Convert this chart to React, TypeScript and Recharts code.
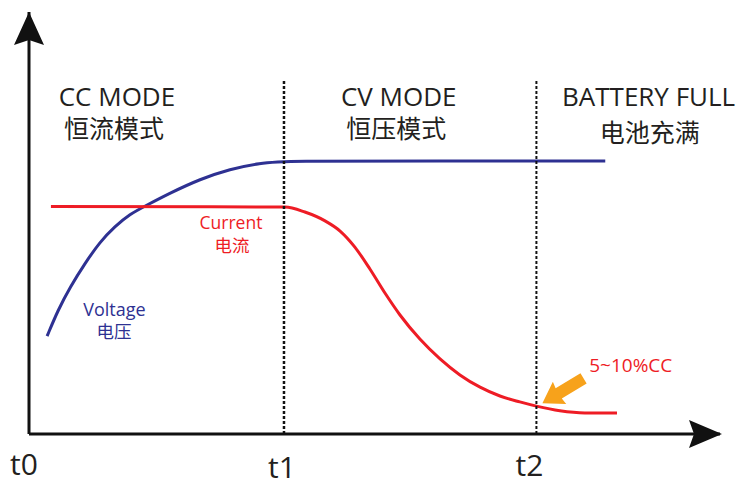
import { ComposedChart, Line, XAxis, YAxis, ReferenceLine, ReferenceDot } from 'recharts'

const T1 = 10
const T2 = 19.9
const X_MAX = 27.1
const Y_MAX = 100

const TICKS = [0, T1, T2]
const TICK_LABELS = ['t0', 't1', 't2']

// voltage rises during CC, then holds flat through CV and full
const voltageT = [0.71, 1.14, 1.61, 2.2, 2.78, 3.37, 3.96, 4.55, 5.53, 6.71, 7.88, 9.06, 10.04, 16, 22.6]
const voltageV = [23.2, 29.4, 34.8, 40.5, 45.5, 49.2, 52.1, 54, 57.1, 60.4, 62.8, 64.2, 64.7, 64.7, 64.7]

// current flat during CC, tapers off in CV mode
const currentT = [0.86, 10.04, 10.82, 11.61, 12.2, 12.78, 13.37, 13.96, 14.55, 15.33, 16.12, 16.9, 17.69, 18.47, 19.25, 19.9, 20.82, 21.8, 23.06]
const currentV = [53.9, 53.8, 52.6, 50.5, 48.1, 44.3, 39.1, 33.4, 28.2, 22.5, 17.8, 14, 11.1, 9, 7.6, 6.6, 5.5, 5, 5]

const voltage = voltageT.map((t, i) => ({ t, v: voltageV[i] }))
const current = currentT.map((t, i) => ({ t, v: currentV[i] }))

const BLUE = '#2e3192'
const RED = '#ee1c25'
const INK = '#231f20'
const ORANGE = '#f7a21b'
const FONT = '"Open Sans", "Noto Sans CJK SC", sans-serif'

const notes = [
  { t: 3.45, v: 80.2, text: 'CC MODE', color: INK, size: 26 },
  { t: 3.33, v: 72.4, text: '恒流模式', color: INK, size: 25 },
  { t: 14.5, v: 80.0, text: 'CV MODE', color: INK, size: 26 },
  { t: 14.4, v: 72.4, text: '恒压模式', color: INK, size: 25 },
  { t: 24.3, v: 80.0, text: 'BATTERY FULL', color: INK, size: 26 },
  { t: 24.35, v: 71.6, text: '电池充满', color: INK, size: 25 },
  { t: 7.92, v: 50.3, text: 'Current', color: RED, size: 17.5 },
  { t: 7.96, v: 44.8, text: '电流', color: RED, size: 17.5 },
  { t: 3.35, v: 29.7, text: 'Voltage', color: BLUE, size: 18 },
  { t: 3.33, v: 24.4, text: '电压', color: BLUE, size: 17.5 },
  { t: 23.6, v: 16.4, text: '5~10%CC', color: RED, size: 19 },
]

const TimeTick = (props: any) => {
  const { x, y, payload, index } = props
  const dx = [-5, -2, -7][index] ?? 0
  const dy = [0, 3, 1][index] ?? 0
  return (
    <text x={x + dx} y={y + 33 + dy} textAnchor="middle" fontSize={30} fill={INK} fontFamily={FONT}>
      {TICK_LABELS[TICKS.indexOf(payload.value)]}
    </text>
  )
}

export default function App() {
  return (
    <div style={{ position: 'absolute', left: 0, top: 0, background: '#fff' }}>
      <ComposedChart width={747} height={487} margin={{ top: 12, right: 27, bottom: 0, left: 0 }}>
        <XAxis
          type="number"
          dataKey="t"
          domain={[0, X_MAX]}
          ticks={TICKS}
          tick={<TimeTick />}
          tickLine={false}
          height={53}
          axisLine={{ stroke: '#111', strokeWidth: 3 }}
          allowDataOverflow
        />
        <YAxis
          type="number"
          domain={[0, Y_MAX]}
          width={29}
          tick={false}
          tickLine={false}
          axisLine={{ stroke: '#111', strokeWidth: 3 }}
          allowDataOverflow
        />
        <Line data={voltage} dataKey="v" type="basis" stroke={BLUE} strokeWidth={3} dot={false} isAnimationActive={false} />
        <Line data={current} dataKey="v" type="monotone" stroke={RED} strokeWidth={3} dot={false} isAnimationActive={false} />
        <ReferenceLine segment={[{ x: T1, y: 0 }, { x: T1, y: 84 }]} stroke="#111" strokeWidth={2.5} strokeDasharray="3 2" />
        <ReferenceLine segment={[{ x: T2, y: 0 }, { x: T2, y: 84 }]} stroke="#111" strokeWidth={2} strokeDasharray="3 2" />
        {/* axis arrowheads */}
        <ReferenceDot
          x={X_MAX}
          y={0}
          ifOverflow="visible"
          shape={(p: any) => (
            <polygon points={`${p.cx + 2},${p.cy} ${p.cx - 31},${p.cy - 14} ${p.cx - 26},${p.cy} ${p.cx - 31},${p.cy + 14}`} fill="#111" />
          )}
        />
        <ReferenceDot
          x={0}
          y={Y_MAX}
          ifOverflow="visible"
          shape={(p: any) => (
            <polygon points={`${p.cx},${p.cy} ${p.cx - 15},${p.cy + 33} ${p.cx},${p.cy + 28} ${p.cx + 15},${p.cy + 33}`} fill="#111" />
          )}
        />
        {/* orange pointer at end-of-charge current */}
        <ReferenceDot
          x={T2}
          y={currentV[15]}
          ifOverflow="visible"
          shape={(p: any) => (
            <polygon
              transform={`translate(${p.cx + 6},${p.cy - 3}) rotate(-31)`}
              points="0,0 20,-13 19,-6 48,-6 48,6 19,6 20,13"
              fill={ORANGE}
            />
          )}
        />
        {notes.map((n) => (
          <ReferenceDot
            key={n.text}
            x={n.t}
            y={n.v}
            ifOverflow="visible"
            shape={(p: any) => (
              <text
                x={p.cx}
                y={p.cy}
                textAnchor="middle"
                dominantBaseline="central"
                fontSize={n.size}
                fill={n.color}
                fontFamily={FONT}
              >
                {n.text}
              </text>
            )}
          />
        ))}
      </ComposedChart>
    </div>
  )
}
